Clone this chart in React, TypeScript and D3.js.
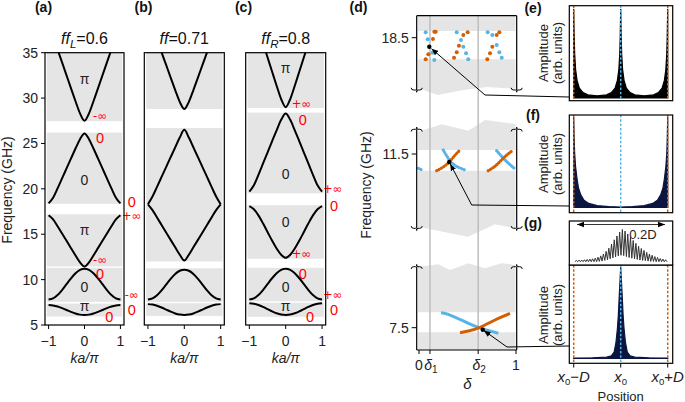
import React from "react";
import * as d3 from "d3";

const FONT = "Liberation Sans, Arial, sans-serif";
const MATH_FONT = "DejaVu Sans, sans-serif";
const BLUE = "#56B4E9";
const ORANGE = "#D55E00";
const GRAY = "#e5e5e5";
const RED = "#ff0000";

// ---------- panels (a)-(c): band structure ----------
const kHalf = [0, 0.125, 0.25, 0.375, 0.5, 0.625, 0.75, 0.875, 1];
const freqTicks = [5, 10, 15, 20, 25, 30, 35];
const kTicks = [-1, 0, 1];
const kTickLabels = ["\u22121", "0", "1"];

const bandsA = [
  [6.1, 6.142, 6.261, 6.44, 6.65, 6.86, 7.039, 7.158, 7.2],
  [11.2, 11.071, 10.704, 10.149, 9.5, 8.851, 8.296, 7.929, 7.8],
  [11.45, 11.908, 12.665, 13.467, 14.275, 15.083, 15.885, 16.642, 17.1],
  [26.1, 25.476, 24.445, 23.351, 22.25, 21.149, 20.055, 19.024, 18.4],
  [27.5, 28.31, 29.65, 31.07, 32.5, 33.93, 35.35, 36.69, 37.5],
];
const passA = [[5.93, 7.35], [7.55, 11.3], [11.45, 17.2], [18.35, 26.2], [27.45, 35]];
const namesA = [
  { k: 0, f: 32.1, t: "\u03c0" },
  { k: 0, f: 20.93, t: "0" },
  { k: 0, f: 15.47, t: "\u03c0" },
  { k: 0, f: 9.2, t: "0" },
  { k: 0, f: 7.03, t: "\u03c0" },
];
const marksA = [
  { k: 0.43, f: 28.03, t: "-\u221e" },
  { k: 0.43, f: 25.6, t: "0" },
  { k: 1.32, f: 18.56, t: "0" },
  { k: 1.31, f: 17.0, t: "+\u221e" },
  { k: 0.43, f: 12.16, t: "-\u221e" },
  { k: 0.43, f: 10.6, t: "0" },
  { k: 1.31, f: 8.35, t: "-\u221e" },
  { k: 1.32, f: 6.7, t: "0" },
  { k: 0.69, f: 5.85, t: "0" },
];

const bandsB = [
  [6.1, 6.146, 6.275, 6.471, 6.7, 6.929, 7.125, 7.254, 7.3],
  [11.1, 10.975, 10.618, 10.08, 9.45, 8.82, 8.282, 7.925, 7.8],
  [12.1, 12.741, 13.555, 14.377, 15.2, 16.023, 16.845, 17.659, 18.3],
  [26.5, 25.652, 24.575, 23.489, 22.4, 21.311, 20.225, 19.148, 18.3],
  [28.8, 29.586, 30.886, 32.263, 33.65, 35.037, 36.414, 37.714, 38.5],
];
const passB = [[6.0, 7.4], [7.55, 11.25], [12.0, 26.7], [28.8, 35]];

const bandsC = [
  [6.1, 6.149, 6.29, 6.502, 6.75, 6.998, 7.21, 7.351, 7.4],
  [11.2, 11.071, 10.704, 10.149, 9.5, 8.851, 8.296, 7.929, 7.8],
  [12.4, 12.742, 13.426, 14.298, 15.25, 16.202, 17.074, 17.758, 18.1],
  [28.3, 27.603, 26.451, 25.23, 24.0, 22.77, 21.549, 20.397, 19.7],
  [29.0, 29.891, 31.365, 32.927, 34.5, 36.073, 37.635, 39.109, 40.0],
];
const passC = [[5.9, 7.45], [7.6, 11.3], [12.3, 18.2], [19.5, 28.4], [28.9, 35]];
const namesC = [
  { k: 0, f: 33.3, t: "\u03c0" },
  { k: 0, f: 21.64, t: "0" },
  { k: 0, f: 16.35, t: "0" },
  { k: 0, f: 9.2, t: "0" },
  { k: 0, f: 7.03, t: "\u03c0" },
];
const marksC = [
  { k: 0.43, f: 29.35, t: "+\u221e" },
  { k: 0.47, f: 27.6, t: "0" },
  { k: 1.29, f: 19.96, t: "+\u221e" },
  { k: 1.33, f: 18.12, t: "0" },
  { k: 0.43, f: 12.83, t: "+\u221e" },
  { k: 0.47, f: 10.6, t: "0" },
  { k: 1.29, f: 8.35, t: "+\u221e" },
  { k: 1.33, f: 6.7, t: "0" },
  { k: 0.67, f: 5.87, t: "0" },
];

// ---------- panel (d) ----------
const deltaMarks = [0.113, 0.61];
const dTickVals = [18.5, 11.5, 7.5];
const dTickLabels = ["18.5", "11.5", "7.5"];
const dDomains = [[17.454, 18.94], [10.014, 11.994], [7.054, 8.72]];
const dGaps = [[18.068, 18.634], [11.166, 11.58], [7.408, 7.808]];
const dTopZig = [[-0.01, 17.488], [0.196, 17.354], [0.454, 17.454], [0.701, 17.514], [0.995, 17.474]];
const dMidZigTop = [[-0.01, 11.946], [0.234, 12.094], [0.508, 11.966], [0.68, 12.18], [0.995, 12.1]];
const dMidZigBot = [[-0.01, 10.046], [0.505, 9.846], [0.784, 10.094], [0.995, 10.014]];
const dBotZig = [[-0.01, 8.72], [0.199, 8.768], [0.32, 8.654], [0.508, 8.788], [0.68, 8.688], [0.853, 8.788], [0.995, 8.754]];

const dTopBlue = [
  [0.069, 18.608], [0.09, 18.468], [0.137, 18.2], [0.158, 18.054],
  [0.389, 18.608], [0.433, 18.454], [0.457, 18.32], [0.485, 18.188], [0.508, 18.068],
  [0.708, 18.608], [0.756, 18.554], [0.801, 18.354], [0.828, 18.208], [0.853, 18.1],
];
const dTopOrange = [
  [0.172, 18.62], [0.158, 18.62], [0.144, 18.474], [0.096, 18.168], [0.069, 18.068],
  [0.502, 18.608], [0.457, 18.554], [0.412, 18.34], [0.389, 18.208], [0.361, 18.1],
  [0.828, 18.608], [0.801, 18.554], [0.756, 18.32], [0.732, 18.188], [0.704, 18.068],
];
const dMidBlue = [
  [[-0.005, 11.214], [0.044, 11.166]],
  [[0.25, 11.58], [0.31, 11.39], [0.38, 11.26], [0.49, 11.17]],
  [[0.801, 11.566], [0.887, 11.38], [0.99, 11.2]],
];
const dMidOrange = [
  [[0.182, 11.166], [0.25, 11.24], [0.312, 11.34], [0.36, 11.45], [0.415, 11.566]],
  [[0.714, 11.166], [0.78, 11.25], [0.835, 11.35], [0.9, 11.47], [0.962, 11.566]],
];
const dBotBlue = [[0.227, 7.8], [0.302, 7.768], [0.474, 7.62], [0.611, 7.508], [0.818, 7.388]];
const dBotOrange = [[0.423, 7.4], [0.508, 7.434], [0.629, 7.508], [0.784, 7.654], [0.938, 7.788]];
const dCross = [[0.106, 18.32], [0.312, 11.34], [0.657, 7.46]];

// ---------- panels (e)-(g): amplitude profiles ----------
const eProfile = [
  [-1, 1.0], [-0.99, 0.7], [-0.98, 0.5], [-0.96, 0.32], [-0.93, 0.2], [-0.88, 0.11], [-0.8, 0.06],
  [-0.7, 0.035], [-0.5, 0.025], [-0.3, 0.035], [-0.2, 0.06], [-0.12, 0.11], [-0.07, 0.2],
  [-0.04, 0.32], [-0.02, 0.5], [-0.01, 0.7], [0, 1.0], [0.01, 0.7], [0.02, 0.5], [0.04, 0.32],
  [0.07, 0.2], [0.12, 0.11], [0.2, 0.06], [0.3, 0.035], [0.5, 0.025], [0.7, 0.035], [0.8, 0.06],
  [0.88, 0.11], [0.93, 0.2], [0.96, 0.32], [0.98, 0.5], [0.99, 0.7], [1, 1.0],
];
const fProfile = [
  [-1, 1.0], [-0.99, 0.75], [-0.98, 0.6], [-0.96, 0.45], [-0.93, 0.32], [-0.9, 0.22], [-0.85, 0.14],
  [-0.78, 0.08], [-0.68, 0.045], [-0.5, 0.02], [-0.25, 0.01], [0, 0.005], [0.25, 0.01], [0.5, 0.02],
  [0.68, 0.045], [0.78, 0.08], [0.85, 0.14], [0.9, 0.22], [0.93, 0.32], [0.96, 0.45], [0.98, 0.6],
  [0.99, 0.75], [1, 1.0],
];
const gProfile = [
  [-1, 0.005], [-0.6, 0.008], [-0.3, 0.015], [-0.2, 0.03], [-0.14, 0.07], [-0.1, 0.18], [-0.07, 0.33],
  [-0.05, 0.48], [-0.03, 0.7], [-0.015, 0.85], [0, 1.0], [0.015, 0.85], [0.03, 0.7], [0.05, 0.48],
  [0.07, 0.33], [0.1, 0.18], [0.14, 0.07], [0.2, 0.03], [0.3, 0.015], [0.6, 0.008], [1, 0.005],
];
const insetPeaks = [
  0.04, 0.05, 0.05, 0.06, 0.07, 0.08, 0.09, 0.11, 0.14, 0.18, 0.24, 0.32, 0.42, 0.55, 0.68, 0.8, 0.92,
  1.0, 0.95, 0.86, 0.76, 0.66, 0.57, 0.48, 0.41, 0.35, 0.29, 0.24, 0.2, 0.16, 0.13, 0.1, 0.08, 0.06,
];
const insetTroughs = [
  0, 0, 0, 0, 0, 0, 0, 0, 0, 0.01, 0.02, 0.04, 0.06, 0.09, 0.12, 0.15, 0.18, 0.2, 0.19, 0.16, 0.13,
  0.11, 0.09, 0.07, 0.05, 0.04, 0.03, 0.02, 0.01, 0.01, 0, 0, 0, 0,
];
const posTicks = [-1, 0, 1];

// ---------- layout ----------
const B_TOP = 52.7;
const B_BOT = 325;

function BandPanel(props: any) {
  const { id, left, right, bands, pass, names, marks, title, showY } = props;
  const x = d3.scaleLinear().domain([-1.1, 1.1]).range([left, right]);
  const y = d3.scaleLinear().domain([5, 35]).range([B_BOT, B_TOP]);
  const line = d3
    .line<number[]>()
    .x((d) => x(d[0]))
    .y((d) => y(d[1]))
    .curve(d3.curveMonotoneX);
  const kFull = [...kHalf.slice(1).reverse().map((k) => -k), ...kHalf];
  return (
    <g>
      <clipPath id={id}>
        <rect x={left} y={B_TOP} width={right - left} height={B_BOT - B_TOP} />
      </clipPath>
      <g clipPath={`url(#${id})`}>
        {pass.map((p: number[], i: number) => (
          <rect key={i} x={x(-1.05)} width={x(1.05) - x(-1.05)} y={y(p[1])} height={y(p[0]) - y(p[1])} fill={GRAY} />
        ))}
        {bands.map((b: number[], i: number) => {
          const fFull = [...b.slice(1).reverse(), ...b];
          return (
            <path key={i} d={line(kFull.map((k, j) => [k, fFull[j]])) || ""} fill="none" stroke="#000" strokeWidth={2} />
          );
        })}
      </g>
      {names.map((n: any, i: number) => (
        <text key={i} x={x(n.k)} y={y(n.f)} dy="0.35em" textAnchor="middle" fontSize={14} fill="#222">
          {n.t}
        </text>
      ))}
      {marks.map((n: any, i: number) =>
        n.t === "0" ? (
          <text key={i} x={x(n.k)} y={y(n.f)} dy="0.35em" textAnchor="middle" fontSize={14.5} fill={RED}>
            {n.t}
          </text>
        ) : (
          <text key={i} x={x(n.k)} y={y(n.f)} dy="0.35em" textAnchor="middle" fontSize={11.5} fontFamily={MATH_FONT} fill={RED}>
            {n.t}
          </text>
        )
      )}
      <rect x={left} y={B_TOP} width={right - left} height={B_BOT - B_TOP} fill="none" stroke="#000" strokeWidth={1.2} />
      {kTicks.map((k, i) => (
        <g key={i}>
          <line x1={x(k)} x2={x(k)} y1={B_BOT} y2={B_BOT + 4} stroke="#000" strokeWidth={1} />
          <text x={x(k)} y={346} textAnchor="middle" fontSize={14} fill="#222">
            {kTickLabels[i]}
          </text>
        </g>
      ))}
      <text x={x(0)} y={363} textAnchor="middle" fontSize={14} fontStyle="italic" fill="#222">
        ka/{"\u03c0"}
      </text>
      <text x={x(0)} y={44} textAnchor="middle" fontSize={16} fill="#111">
        {title}
      </text>
      {showY &&
        freqTicks.map((f) => (
          <g key={f}>
            <line x1={left - 4} x2={left} y1={y(f)} y2={y(f)} stroke="#000" strokeWidth={1} />
            <text x={left - 7} y={y(f)} dy="0.35em" textAnchor="end" fontSize={14} fill="#222">
              {f}
            </text>
          </g>
        ))}
    </g>
  );
}

function Brace({ x, y, dir }: { x: number; y: number; dir: number }) {
  const h = 2.2 * dir;
  const d = `M${x - 5.5},${y - h} Q${x - 5.5},${y} ${x - 3},${y} L${x - 1.2},${y} Q${x},${y} ${x},${y + h} Q${x},${y} ${x + 1.2},${y} L${x + 3},${y} Q${x + 5.5},${y} ${x + 5.5},${y - h}`;
  return <path d={d} fill="none" stroke="#000" strokeWidth={1} />;
}

function PanelD() {
  const xD = d3.scaleLinear().domain([0, 1]).range([419, 516]);
  const L = 416.7;
  const R = 516.7;
  const ranges = [[90, 15.7], [228.3, 129.3], [350, 266.7]];
  const ys = dDomains.map((dom, i) => d3.scaleLinear().domain(dom).range(ranges[i]));
  const poly = (pts: number[][], s: any) => pts.map((p) => `${xD(p[0])},${s(p[1])}`).join(" ");
  const xl = -0.01;
  const xr = 0.995;
  const rect = (lo: number, hi: number) => [[xl, lo], [xr, lo], [xr, hi], [xl, hi]];
  const grayPolys = [
    { s: ys[0], pts: rect(dGaps[0][1], dDomains[0][1]) },
    { s: ys[0], pts: [[xl, dGaps[0][0]], [xr, dGaps[0][0]], ...dTopZig.slice().reverse()] },
    { s: ys[1], pts: [[xl, dGaps[1][1]], [xr, dGaps[1][1]], ...dMidZigTop.slice().reverse()] },
    { s: ys[1], pts: [[xl, dGaps[1][0]], [xr, dGaps[1][0]], ...dMidZigBot.slice().reverse()] },
    { s: ys[2], pts: [[xl, dGaps[2][1]], [xr, dGaps[2][1]], ...dBotZig.slice().reverse()] },
    { s: ys[2], pts: rect(dDomains[2][0], dGaps[2][0]) },
  ];
  const lineMid = d3.line<number[]>().x((d) => xD(d[0])).y((d) => ys[1](d[1])).curve(d3.curveNatural);
  const lineBot = d3.line<number[]>().x((d) => xD(d[0])).y((d) => ys[2](d[1])).curve(d3.curveNatural);
  const crossPx = dCross.map((c, i) => [xD(c[0]), ys[i](c[1])]);
  const elbows = [[485, 95], [471.7, 205], [507, 347]];
  const ends = [[569, 97], [569, 206], [569, 346]];
  return (
    <g>
      {grayPolys.map((g, i) => (
        <polygon key={i} points={poly(g.pts, g.s)} fill={GRAY} />
      ))}
      {deltaMarks.map((d, i) => (
        <line key={i} x1={xD(d)} x2={xD(d)} y1={15.7} y2={350} stroke="#bdbdbd" strokeWidth={1.5} />
      ))}
      {dTopBlue.map((p, i) => (
        <circle key={"b" + i} cx={xD(p[0])} cy={ys[0](p[1])} r={2} fill={BLUE} />
      ))}
      {dTopOrange.map((p, i) => (
        <circle key={"o" + i} cx={xD(p[0])} cy={ys[0](p[1])} r={2} fill={ORANGE} />
      ))}
      {dMidBlue.map((seg, i) => (
        <path key={"mb" + i} d={lineMid(seg) || ""} fill="none" stroke={BLUE} strokeWidth={3.2} strokeDasharray="0.1 2.6" strokeLinecap="round" />
      ))}
      {dMidOrange.map((seg, i) => (
        <path key={"mo" + i} d={lineMid(seg) || ""} fill="none" stroke={ORANGE} strokeWidth={3.2} strokeDasharray="0.1 2.6" strokeLinecap="round" />
      ))}
      <path d={lineBot(dBotBlue) || ""} fill="none" stroke={BLUE} strokeWidth={3} />
      <path d={lineBot(dBotOrange) || ""} fill="none" stroke={ORANGE} strokeWidth={3} />
      {/* spines */}
      <line x1={L} x2={R} y1={15.7} y2={15.7} stroke="#000" strokeWidth={1.2} />
      {ranges.map((r, i) => (
        <g key={i}>
          <line x1={L} x2={L} y1={r[0]} y2={r[1]} stroke="#000" strokeWidth={1.2} />
          <line x1={R} x2={R} y1={r[0]} y2={r[1]} stroke="#000" strokeWidth={1.2} />
          {i > 0 && <Brace x={L} y={r[1]} dir={-1} />}
          {i > 0 && <Brace x={R} y={r[1]} dir={-1} />}
          {i < 2 && <Brace x={L} y={r[0]} dir={1} />}
          {i < 2 && <Brace x={R} y={r[0]} dir={1} />}
        </g>
      ))}
      <line x1={L} x2={R} y1={350} y2={350} stroke="#000" strokeWidth={1.2} />
      {dTickVals.map((v, i) => (
        <g key={i}>
          <line x1={L - 5} x2={L} y1={ys[i](v)} y2={ys[i](v)} stroke="#000" strokeWidth={1} />
          <text x={L - 8} y={ys[i](v)} dy="0.35em" textAnchor="end" fontSize={14} fill="#222">
            {dTickLabels[i]}
          </text>
        </g>
      ))}
      {[0, deltaMarks[0], deltaMarks[1], 1].map((v, i) => (
        <line key={i} x1={xD(v)} x2={xD(v)} y1={350} y2={354} stroke="#000" strokeWidth={1} />
      ))}
      <text x={xD(0)} y={370} textAnchor="middle" fontSize={14} fill="#222">0</text>
      <text x={xD(1)} y={370} textAnchor="middle" fontSize={14} fill="#222">1</text>
      {deltaMarks.map((v, i) => (
        <text key={i} x={xD(v) + 1} y={370} textAnchor="middle" fontSize={14} fill="#222">
          <tspan fontStyle="italic">{"\u03b4"}</tspan>
          <tspan fontSize={10} dy={3}>{i + 1}</tspan>
        </text>
      ))}
      <text x={xD(0.5)} y={389} textAnchor="middle" fontSize={15} fontStyle="italic" fill="#222">
        {"\u03b4"}
      </text>
      <text transform="translate(371,185) rotate(-90)" textAnchor="middle" fontSize={14} fill="#222">
        Frequency (GHz)
      </text>
      {/* connectors */}
      {crossPx.map((c, i) => (
        <g key={i}>
          <path
            d={`M${ends[i][0]},${ends[i][1]} L${elbows[i][0]},${elbows[i][1]} L${c[0] + (elbows[i][0] - c[0]) * 0.04},${c[1] + (elbows[i][1] - c[1]) * 0.04}`}
            fill="none"
            stroke="#000"
            strokeWidth={1}
            markerEnd="url(#arrowHead)"
          />
          <circle cx={c[0]} cy={c[1]} r={2.2} fill="#000" />
        </g>
      ))}
    </g>
  );
}

function AmpPanel(props: any) {
  const { id, top, bottom, base, peak, profile, fill, xs } = props;
  const y = d3.scaleLinear().domain([0, 1]).range([base, peak]);
  const area = d3
    .area<number[]>()
    .x((d) => xs(d[0]))
    .y0(y(0))
    .y1((d) => y(d[1]));
  const L = xs.range()[0];
  const R = xs.range()[1];
  return (
    <g>
      <clipPath id={id}>
        <rect x={L} y={top} width={R - L} height={bottom - top} />
      </clipPath>
      <g clipPath={`url(#${id})`}>
        <path d={area(profile) || ""} fill={fill} stroke={fill} strokeWidth={1.2} />
        {posTicks.map((p, i) => (
          <line key={i} x1={xs(p)} x2={xs(p)} y1={top} y2={bottom} stroke={p === 0 ? BLUE : ORANGE} strokeWidth={1.5} strokeDasharray="2.5 1.8" />
        ))}
      </g>
      <rect x={L} y={top} width={R - L} height={bottom - top} fill="none" stroke="#000" strokeWidth={1.2} />
    </g>
  );
}

function AmpLabel({ cy }: { cy: number }) {
  return (
    <g fontSize={13} fill="#222">
      <text transform={`translate(548,${cy}) rotate(-90)`} textAnchor="middle">Amplitude</text>
      <text transform={`translate(562,${cy}) rotate(-90)`} textAnchor="middle">(arb. units)</text>
    </g>
  );
}

export default function App() {
  const xs = d3.scaleLinear().domain([-1.094, 1.106]).range([569.3, 672.7]);
  const n = insetPeaks.length;
  const xi = d3.scaleLinear().domain([0, 2 * n]).range([575, 667]);
  const yi = d3.scaleLinear().domain([0, 1]).range([261.7, 229.5]);
  const insetPts: number[][] = [];
  insetPeaks.forEach((p, i) => {
    insetPts.push([2 * i, insetTroughs[i]]);
    insetPts.push([2 * i + 1, p]);
  });
  insetPts.push([2 * n, 0]);
  const insetLine = d3.line<number[]>().x((d) => xi(d[0])).y((d) => yi(d[1]));
  return (
    <svg
      width={685}
      height={402}
      style={{ position: "absolute", left: 0, top: 0, background: "#fff" }}
      fontFamily={FONT}
    >
      <defs>
        <marker id="arrowHead" viewBox="0 0 10 10" refX={10} refY={5} markerWidth={7} markerHeight={7} orient="auto-start-reverse" markerUnits="userSpaceOnUse">
          <path d="M0,1 L10,5 L0,9 z" fill="#000" />
        </marker>
      </defs>
      <rect x={0} y={0} width={685} height={402} fill="#fff" />

      <BandPanel
        id="clipA"
        left={45}
        right={124}
        bands={bandsA}
        pass={passA}
        names={namesA}
        marks={marksA}
        showY
        title={
          <>
            <tspan fontStyle="italic">ff</tspan>
            <tspan fontStyle="italic" fontSize={11.5} dy={4}>L</tspan>
            <tspan dy={-4}>=0.6</tspan>
          </>
        }
      />
      <BandPanel
        id="clipB"
        left={144.3}
        right={224.3}
        bands={bandsB}
        pass={passB}
        names={[]}
        marks={[]}
        title={
          <>
            <tspan fontStyle="italic">ff</tspan>
            <tspan>=0.71</tspan>
          </>
        }
      />
      <BandPanel
        id="clipC"
        left={245.7}
        right={325.7}
        bands={bandsC}
        pass={passC}
        names={namesC}
        marks={marksC}
        title={
          <>
            <tspan fontStyle="italic">ff</tspan>
            <tspan fontStyle="italic" fontSize={11.5} dy={4}>R</tspan>
            <tspan dy={-4}>=0.8</tspan>
          </>
        }
      />
      <text transform="translate(12,190) rotate(-90)" textAnchor="middle" fontSize={14} fill="#222">
        Frequency (GHz)
      </text>

      <PanelD />

      <AmpPanel id="clipE" top={5.7} bottom={100.7} base={98} peak={9} profile={eProfile} fill="#000" xs={xs} />
      <AmpPanel id="clipF" top={115} bottom={212.7} base={207.5} peak={117} profile={fProfile} fill="#0b1640" xs={xs} />
      <AmpPanel id="clipG" top={265} bottom={363.3} base={358.5} peak={267} profile={gProfile} fill="#0b1640" xs={xs} />

      {/* inset of (g) */}
      <rect x={569.3} y={221} width={103.4} height={44} fill="#fff" stroke="#000" strokeWidth={1.2} />
      <path d={insetLine(insetPts) || ""} fill="none" stroke="#333" strokeWidth={1} />
      <line x1={577} x2={665} y1={224.5} y2={224.5} stroke="#000" strokeWidth={0.8} markerStart="url(#arrowHead)" markerEnd="url(#arrowHead)" />
      <text x={643} y={239} textAnchor="middle" fontSize={13} fill="#222">0.2D</text>

      {posTicks.map((p, i) => (
        <line key={i} x1={xs(p)} x2={xs(p)} y1={363.3} y2={367.5} stroke="#000" strokeWidth={1} />
      ))}
      <text x={xs(-1)} y={382} textAnchor="middle" fontSize={15} fill="#222">
        <tspan fontStyle="italic">x</tspan>
        <tspan fontSize={9.5} dy={2.5}>0</tspan>
        <tspan dy={-2.5}>{"\u2212"}</tspan>
        <tspan fontStyle="italic">D</tspan>
      </text>
      <text x={xs(0)} y={382} textAnchor="middle" fontSize={15} fill="#222">
        <tspan fontStyle="italic">x</tspan>
        <tspan fontSize={9.5} dy={2.5}>0</tspan>
      </text>
      <text x={xs(1)} y={382} textAnchor="middle" fontSize={15} fill="#222">
        <tspan fontStyle="italic">x</tspan>
        <tspan fontSize={9.5} dy={2.5}>0</tspan>
        <tspan dy={-2.5}>+</tspan>
        <tspan fontStyle="italic">D</tspan>
      </text>
      <text x={xs(0)} y={400.5} textAnchor="middle" fontSize={13} fill="#222">Position</text>

      <AmpLabel cy={53} />
      <AmpLabel cy={164} />
      <AmpLabel cy={315} />

      <g fontSize={14} fontWeight="bold" fill="#111" textAnchor="middle">
        <text x={43.5} y={12}>(a)</text>
        <text x={143.5} y={12}>(b)</text>
        <text x={243.5} y={12}>(c)</text>
        <text x={358.5} y={12}>(d)</text>
        <text x={533} y={13}>(e)</text>
        <text x={533} y={120}>(f)</text>
        <text x={533} y={228}>(g)</text>
      </g>
    </svg>
  );
}
